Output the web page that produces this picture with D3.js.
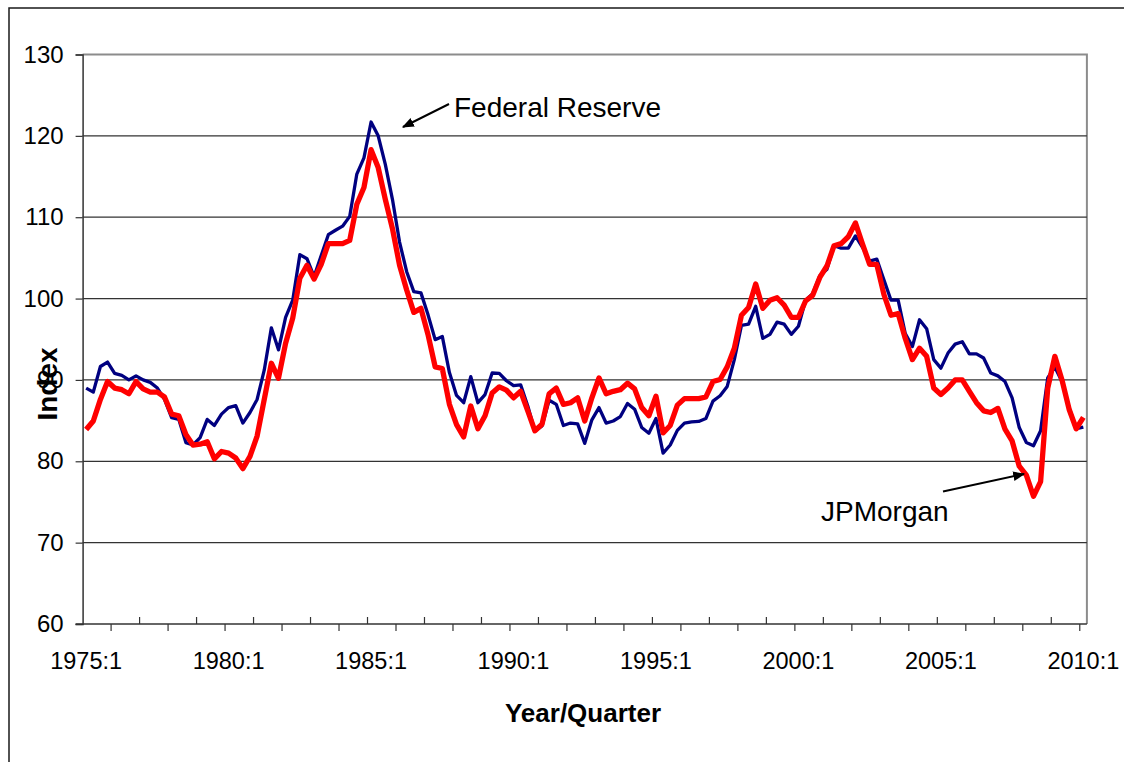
<!DOCTYPE html>
<html>
<head>
<meta charset="utf-8">
<script src="https://cdn.jsdelivr.net/npm/d3@7"></script>
<style>
  body { margin: 0; background: #fff; }
  text { font-family: "Liberation Sans", Arial, sans-serif; fill: #000; }
</style>
</head>
<body>
<script>
const width = 1124;
const height = 762;

// quarters 1975:1 .. 2010:1
const quarters = [];
for (let y = 1975; y <= 2010; y++) {
    for (let q = 1; q <= 4; q++) {
        if (y === 2010 && q > 1) break;
        quarters.push(y + ':' + q);
    }
}
const tickLabels = ['1975:1', '1980:1', '1985:1', '1990:1', '1995:1', '2000:1', '2005:1', '2010:1'];
const yTicks = [60, 70, 80, 90, 100, 110, 120, 130];

const federalReserve = [
    89.0, 88.5, 91.65, 92.2, 90.8, 90.55, 90.0, 90.5, 90.0, 89.7,
    89.0, 87.6, 85.35, 85.15, 82.3, 82.0, 82.9, 85.15, 84.4, 85.8,
    86.6, 86.85, 84.7, 86.0, 87.6, 91.2, 96.4, 93.7, 97.7, 99.8,
    105.4, 104.9, 102.7, 105.3, 107.85, 108.4, 108.9, 110.1, 115.3, 117.3,
    121.7, 120.0, 116.5, 112.2, 106.95, 103.3, 100.85, 100.7, 98.0, 94.95,
    95.35, 90.9, 88.1, 87.2, 90.4, 87.2, 88.2, 90.85, 90.8, 89.9,
    89.3, 89.4, 86.8, 83.7, 84.35, 87.5, 87.0, 84.4, 84.7, 84.6,
    82.2, 85.1, 86.6, 84.7, 84.95, 85.5, 87.1, 86.4, 84.15, 83.45,
    85.25, 81.0, 82.0, 83.8, 84.7, 84.85, 84.9, 85.25, 87.4, 88.05,
    89.2, 92.5, 96.7, 96.85, 99.05, 95.1, 95.6, 97.1, 96.85, 95.6,
    96.6, 99.8, 100.6, 102.8, 103.6, 106.5, 106.2, 106.2, 107.7, 106.3,
    104.6, 104.85, 102.3, 99.8, 99.8, 95.7, 94.1, 97.4, 96.3, 92.5,
    91.45, 93.3, 94.4, 94.7, 93.2, 93.2, 92.7, 90.85, 90.5, 89.8,
    87.8, 84.15, 82.3, 81.9, 83.75, 90.25, 91.6, 89.8, 86.6, 84.0,
    84.2
];

const jpMorgan = [
    83.9, 84.95, 87.6, 89.8, 89.0, 88.8, 88.3, 89.8, 88.9, 88.5,
    88.5, 87.9, 85.8, 85.6, 83.3, 82.0, 82.1, 82.4, 80.3, 81.2,
    81.0, 80.4, 79.1, 80.6, 83.1, 87.6, 92.05, 90.2, 94.5, 97.6,
    102.5, 104.1, 102.4, 104.2, 106.75, 106.75, 106.75, 107.15, 111.6, 113.65,
    118.3, 116.1, 112.2, 108.6, 104.1, 101.05, 98.3, 98.8, 95.55, 91.6,
    91.4, 87.0, 84.5, 83.0, 86.8, 84.0, 85.6, 88.4, 89.15, 88.75,
    87.8, 88.6, 86.2, 83.75, 84.55, 88.3, 89.0, 87.0, 87.2, 87.8,
    84.95, 87.8, 90.25, 88.3, 88.6, 88.8, 89.6, 88.9, 86.6, 85.6,
    88.0, 83.5, 84.4, 86.9, 87.7, 87.7, 87.7, 87.9, 89.8, 90.05,
    91.6, 93.9, 97.95, 98.9, 101.8, 98.8, 99.8, 100.1, 99.2, 97.7,
    97.7, 99.7, 100.4, 102.6, 104.0, 106.5, 106.75, 107.6, 109.3, 106.7,
    104.2, 104.2, 100.5, 97.95, 98.15, 95.1, 92.5, 93.9, 92.9, 89.0,
    88.2, 89.0, 90.0, 90.0, 88.6, 87.2, 86.2, 86.0, 86.5, 83.95,
    82.5, 79.4, 78.3, 75.7, 77.5, 89.0, 92.9, 90.0, 86.4, 84.0,
    85.4
];

const plot = {left: 82.6, right: 1086.9, top: 54.5, bottom: 624};

const svg = d3.select('body').append('svg')
    .attr('width', width)
    .attr('height', height);

// outer chart border
svg.append('rect')
    .attr('x', 9).attr('y', 8)
    .attr('width', 1300).attr('height', 900)
    .attr('fill', 'none')
    .attr('stroke', '#1a1a1a')
    .attr('stroke-width', 1.5);

const x = d3.scaleBand()
    .domain(quarters)
    .range([plot.left, plot.right]);
const xc = d => x(d) + x.bandwidth() / 2;

const y = d3.scaleLinear()
    .domain([60, 130])
    .range([plot.bottom, plot.top]);

// plot area frame (grey top/right)
svg.append('path')
    .attr('d', `M${plot.left},${plot.top}H${plot.right}V${plot.bottom}`)
    .attr('fill', 'none')
    .attr('stroke', '#8c8c8c')
    .attr('stroke-width', 2);

// gridlines
svg.append('g')
    .selectAll('line')
    .data(yTicks.filter(d => d > 60 && d < 130))
    .join('line')
    .attr('x1', plot.left).attr('x2', plot.right)
    .attr('y1', d => y(d)).attr('y2', d => y(d))
    .attr('stroke', '#333')
    .attr('stroke-width', 1.2);

// y axis
const yAxis = svg.append('g')
    .attr('transform', `translate(${plot.left},0)`)
    .call(d3.axisLeft(y).tickValues(yTicks).tickSize(7).tickPadding(12));
yAxis.select('.domain').attr('stroke', '#333').attr('stroke-width', 1.5);
yAxis.selectAll('.tick line').attr('stroke', '#333').attr('stroke-width', 1.2);
yAxis.selectAll('text')
    .attr('font-size', 24)
    .attr('font-family', '"Liberation Sans", Arial, sans-serif')
    .attr('fill', '#000');

// x axis line and ticks every 4 quarters (alternating)
svg.append('line')
    .attr('x1', plot.left - 7).attr('x2', plot.right)
    .attr('y1', plot.bottom).attr('y2', plot.bottom)
    .attr('stroke', '#333').attr('stroke-width', 1.5);

const tickQuarters = quarters.filter((d, i) => i % 4 === 0 && i > 0);
svg.append('g')
    .selectAll('line')
    .data(tickQuarters)
    .join('line')
    .attr('x1', d => x(d)).attr('x2', d => x(d))
    .attr('y1', plot.bottom)
    .attr('y2', (d, i) => i % 2 === 0 ? plot.bottom + 7 : plot.bottom - 7)
    .attr('stroke', '#333')
    .attr('stroke-width', 1.2);

svg.append('g')
    .selectAll('text')
    .data(tickLabels)
    .join('text')
    .attr('x', d => xc(d))
    .attr('y', 669)
    .attr('text-anchor', 'middle')
    .attr('font-size', 23.5)
    .text(d => d);

// series
const line = d3.line()
    .x((d, i) => xc(quarters[i]))
    .y(d => y(d));

svg.append('path')
    .datum(federalReserve)
    .attr('d', line)
    .attr('fill', 'none')
    .attr('stroke', '#000080')
    .attr('stroke-width', 3.3)
    .attr('stroke-linejoin', 'round');

svg.append('path')
    .datum(jpMorgan)
    .attr('d', line)
    .attr('fill', 'none')
    .attr('stroke', '#ff0000')
    .attr('stroke-width', 5.3)
    .attr('stroke-linejoin', 'round');

// axis titles
svg.append('text')
    .attr('x', 583).attr('y', 722)
    .attr('text-anchor', 'middle')
    .attr('font-size', 26)
    .attr('font-weight', 'bold')
    .text('Year/Quarter');

svg.append('text')
    .attr('transform', 'translate(57,384) rotate(-90)')
    .attr('text-anchor', 'middle')
    .attr('font-size', 28)
    .attr('font-weight', 'bold')
    .text('Index');

// annotations
const defs = svg.append('defs');
defs.append('marker')
    .attr('id', 'arrow')
    .attr('viewBox', '0 0 10 10')
    .attr('refX', 9).attr('refY', 5)
    .attr('markerWidth', 6).attr('markerHeight', 6)
    .attr('orient', 'auto')
    .append('path')
    .attr('d', 'M0,1L10,5L0,9z')
    .attr('fill', '#000');

svg.append('line')
    .attr('x1', 449).attr('y1', 104)
    .attr('x2', 403).attr('y2', 127)
    .attr('stroke', '#000').attr('stroke-width', 2)
    .attr('marker-end', 'url(#arrow)');
svg.append('text')
    .attr('x', 454).attr('y', 117)
    .attr('font-size', 28)
    .text('Federal Reserve');

svg.append('line')
    .attr('x1', 943).attr('y1', 491.5)
    .attr('x2', 1024).attr('y2', 474)
    .attr('stroke', '#000').attr('stroke-width', 2)
    .attr('marker-end', 'url(#arrow)');
svg.append('text')
    .attr('x', 821).attr('y', 521)
    .attr('font-size', 28)
    .text('JPMorgan');
</script>
</body>
</html>
